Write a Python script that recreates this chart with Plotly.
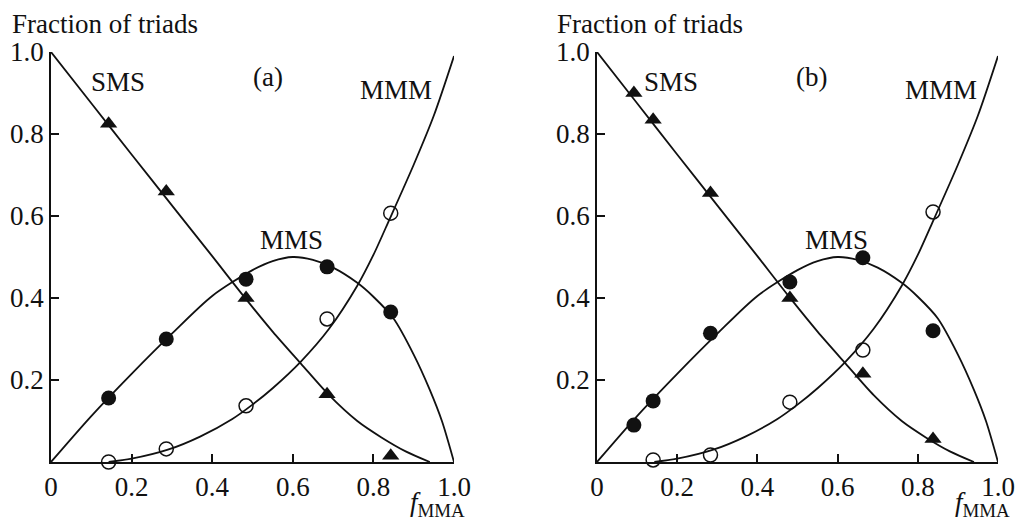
import plotly.graph_objects as go

# ---- fitted curves (same model curves in both panels) ----
sms_curve_x = [0.0, 0.1, 0.2, 0.3, 0.4, 0.48, 0.55, 0.62, 0.69, 0.76, 0.82, 0.88, 0.94]
sms_curve_y = [1.0, 0.875, 0.75, 0.626, 0.502, 0.402, 0.318, 0.240, 0.163, 0.100, 0.060, 0.026, 0.0]

mms_curve_x = [0.0, 0.1, 0.2, 0.3, 0.4, 0.5, 0.55, 0.6, 0.65, 0.7, 0.76, 0.8, 0.85, 0.9, 0.94, 0.97, 1.0]
mms_curve_y = [0.0, 0.112, 0.215, 0.313, 0.405, 0.468, 0.490, 0.500, 0.493, 0.474, 0.437, 0.403, 0.350, 0.262, 0.176, 0.100, 0.0]

mmm_curve_x = [0.143, 0.2, 0.29, 0.37, 0.45, 0.5, 0.55, 0.62, 0.69, 0.76, 0.80, 0.84, 0.9, 0.95, 1.0]
mmm_curve_y = [0.0, 0.008, 0.030, 0.062, 0.105, 0.140, 0.180, 0.245, 0.325, 0.430, 0.505, 0.592, 0.725, 0.845, 0.99]

# ---- measured triad fractions, panel (a) ----
f_a = [0.143, 0.286, 0.484, 0.685, 0.843]
sms_a = [0.825, 0.660, 0.400, 0.165, 0.015]
mms_a = [0.156, 0.300, 0.446, 0.476, 0.366]
mmm_a = [0.0, 0.032, 0.137, 0.349, 0.607]

# ---- measured triad fractions, panel (b) ----
f_b = [0.092, 0.140, 0.283, 0.481, 0.663, 0.838]
sms_b = [0.900, 0.835, 0.656, 0.400, 0.215, 0.056]
mms_b = [0.090, 0.149, 0.314, 0.439, 0.498, 0.320]
mmm_b = [-0.005, 0.005, 0.017, 0.146, 0.273, 0.610]

# ---- axis ticks ----
x_tickvals = [0, 0.2, 0.4, 0.6, 0.8, 1.0]
x_ticktext = ["0", "0.2", "0.4", "0.6", "0.8", "1.0"]
y_tickvals = [0.2, 0.4, 0.6, 0.8, 1.0]
y_ticktext = ["0.2", "0.4", "0.6", "0.8", "1.0"]

FONT = "Liberation Serif"
INK = "#111111"

fig = go.Figure()


def add_panel(xa, ya, fx, sms, mms, mmm):
    for cx, cy in [(sms_curve_x, sms_curve_y), (mms_curve_x, mms_curve_y), (mmm_curve_x, mmm_curve_y)]:
        fig.add_trace(go.Scatter(
            x=cx, y=cy, mode="lines", xaxis=xa, yaxis=ya,
            line=dict(color=INK, width=1.8, shape="spline", smoothing=0.8),
            showlegend=False, hoverinfo="skip", cliponaxis=False))
    fig.add_trace(go.Scatter(
        x=fx, y=sms, mode="markers", xaxis=xa, yaxis=ya, cliponaxis=False,
        marker=dict(symbol="triangle-up", size=15, color=INK), showlegend=False))
    fig.add_trace(go.Scatter(
        x=fx, y=mms, mode="markers", xaxis=xa, yaxis=ya, cliponaxis=False,
        marker=dict(symbol="circle", size=15, color=INK), showlegend=False))
    fig.add_trace(go.Scatter(
        x=fx, y=mmm, mode="markers", xaxis=xa, yaxis=ya, cliponaxis=False,
        marker=dict(symbol="circle-open", size=14, color=INK, line=dict(width=1.5, color=INK)),
        showlegend=False))


add_panel("x", "y", f_a, sms_a, mms_a, mmm_a)
add_panel("x2", "y2", f_b, sms_b, mms_b, mmm_b)

W, H = 1016, 523
y_dom = [(H - 462) / H, (H - 52) / H]

xax = dict(range=[0, 1], tickvals=x_tickvals, ticktext=x_ticktext, ticks="inside",
           ticklen=8, tickwidth=1.5, tickcolor=INK, showline=True, linecolor=INK,
           linewidth=1.8, showgrid=False, zeroline=False, automargin=False,
           tickfont=dict(family=FONT, size=27, color=INK))
yax = dict(range=[0, 1], tickvals=y_tickvals, ticktext=y_ticktext, ticks="inside",
           ticklen=8, tickwidth=1.5, tickcolor=INK, showline=True, linecolor=INK,
           linewidth=1.8, showgrid=False, zeroline=False, domain=y_dom, automargin=False,
           tickfont=dict(family=FONT, size=27, color=INK))

fig.update_layout(
    width=W, height=H,
    autosize=False,
    margin=dict(l=0, r=0, t=0, b=0, pad=0),
    paper_bgcolor="white", plot_bgcolor="white",
    font=dict(family=FONT, size=27, color=INK),
    xaxis=dict(xax, domain=[51 / W, 454 / W], anchor="y"),
    yaxis=dict(yax, anchor="x"),
    xaxis2=dict(xax, domain=[597 / W, 998 / W], anchor="y2"),
    yaxis2=dict(yax, anchor="x2"),
)

label_font = dict(family=FONT, size=27, color=INK)
ann = []
for xr, yr, labels in [
    ("x", "y", [("SMS", 0.166, 0.927), ("(a)", 0.538, 0.939), ("MMM", 0.856, 0.907), ("MMS", 0.598, 0.541)]),
    ("x2", "y2", [("SMS", 0.185, 0.927), ("(b)", 0.536, 0.939), ("MMM", 0.858, 0.907), ("MMS", 0.596, 0.541)]),
]:
    for txt, ax_, ay_ in labels:
        ann.append(dict(text=txt, x=ax_, y=ay_, xref=xr, yref=yr, showarrow=False,
                        font=label_font, xanchor="center", yanchor="middle"))

for x0 in [10, 555]:
    ann.append(dict(text="Fraction of triads", x=x0 / W, y=(H - 24) / H, xref="paper", yref="paper",
                    showarrow=False, font=label_font, xanchor="left", yanchor="middle"))

for x0 in [408, 953]:
    ann.append(dict(text="<i>f</i><sub>MMA</sub>", x=x0 / W, y=0, xref="paper", yref="paper",
                    showarrow=False, font=label_font, xanchor="left", yanchor="bottom"))

fig.update_layout(annotations=ann)

fig.write_html("out.html", config={"responsive": False})
